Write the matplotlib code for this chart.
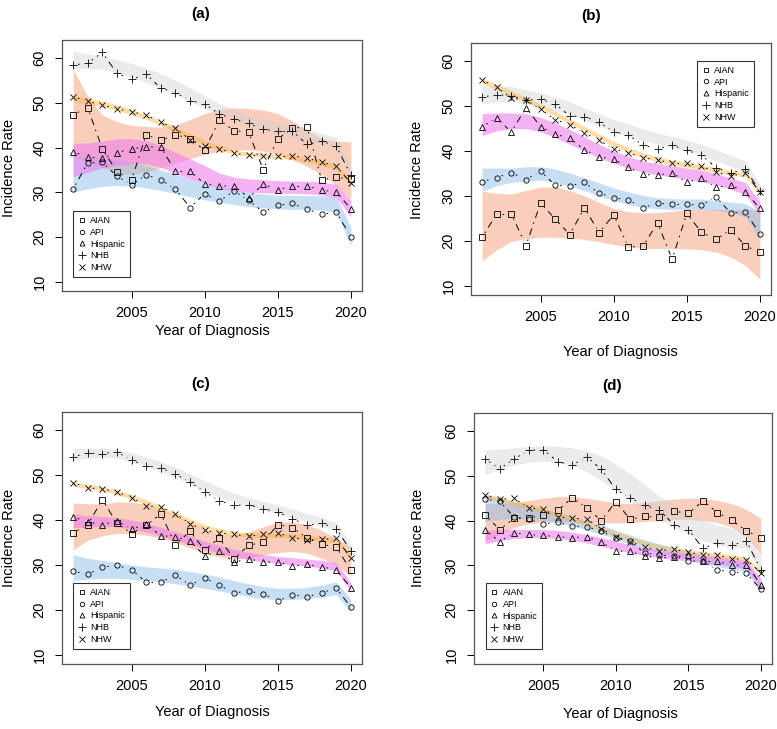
import numpy as np
import matplotlib
matplotlib.use("Agg")
import matplotlib.pyplot as plt
from matplotlib.collections import LineCollection
from matplotlib.lines import Line2D

plt.rcParams['font.family'] = ['Liberation Sans', 'DejaVu Sans']

years = list(range(2001, 2021))
groups = ["AIAN", "API", "Hispanic", "NHB", "NHW"]
x_ticks = [2005, 2010, 2015, 2020]
y_ticks = [10, 20, 30, 40, 50, 60]

# ---------------- panel (a) ----------------
a_AIAN = [47.4, 48.9, 39.7, 34.6, 32.8, 42.9, 41.6, 42.9, 42.0, 39.4, 46.2, 43.8, 43.5, 35.1, 41.9, 44.4, 44.6, 32.7, 33.4, 32.9]
a_API = [30.7, 36.6, 36.7, 33.6, 31.7, 33.9, 32.8, 30.7, 26.6, 29.7, 28.0, 30.3, 28.2, 25.6, 27.1, 27.5, 26.2, 25.1, 25.5, 20.1]
a_HISP = [39.1, 37.9, 37.6, 38.9, 39.7, 40.2, 40.1, 34.7, 34.7, 31.9, 31.4, 31.5, 28.8, 31.8, 30.6, 31.4, 31.4, 30.5, 30.1, 26.3]
a_NHB = [58.5, 58.9, 61.3, 56.6, 55.3, 56.4, 53.3, 52.3, 50.5, 49.8, 47.5, 46.4, 45.4, 44.1, 43.7, 43.7, 40.7, 41.5, 40.3, 33.9]
a_NHW = [51.4, 50.4, 49.5, 48.7, 48.0, 47.3, 45.7, 44.3, 41.8, 40.3, 39.7, 38.7, 38.3, 38.2, 38.2, 38.2, 37.6, 36.8, 35.8, 32.1]

a_AIAN_lo = [38.0, 37.0, 35.5, 34.3, 34.0, 34.5, 35.5, 36.5, 37.5, 38.5, 39.2, 39.5, 39.5, 39.2, 38.5, 37.3, 35.8, 34.0, 31.5, 28.5]
a_AIAN_hi = [57.5, 51.5, 47.3, 45.8, 45.0, 44.7, 44.6, 45.0, 46.3, 47.6, 48.6, 48.9, 48.8, 48.4, 47.6, 46.0, 44.0, 42.0, 41.5, 41.3]
a_API_lo = [30.0, 30.8, 31.3, 31.5, 31.4, 31.0, 30.4, 29.7, 29.0, 28.3, 27.8, 27.3, 26.8, 26.5, 26.3, 26.2, 26.2, 26.0, 25.5, 18.0]
a_API_hi = [38.3, 37.8, 37.5, 37.2, 36.7, 36.0, 35.0, 34.0, 33.0, 32.0, 31.2, 30.5, 30.0, 29.6, 29.4, 29.3, 29.3, 29.2, 29.0, 22.2]
a_HISP_lo = [33.5, 34.5, 35.5, 36.0, 36.4, 36.4, 35.6, 34.2, 33.0, 32.0, 30.9, 30.3, 30.0, 29.9, 29.8, 29.8, 29.7, 29.4, 28.8, 24.5]
a_HISP_hi = [41.0, 41.0, 41.5, 42.0, 42.0, 41.5, 40.5, 39.0, 37.5, 36.0, 34.3, 33.4, 33.0, 32.8, 32.6, 32.5, 32.5, 32.3, 31.8, 28.3]
a_NHB_lo = [57.6, 57.7, 57.5, 56.8, 55.8, 54.6, 53.3, 51.9, 50.4, 48.9, 47.4, 46.1, 44.9, 43.8, 42.9, 42.0, 41.3, 40.8, 40.0, 32.8]
a_NHB_hi = [61.5, 61.0, 60.4, 59.7, 58.8, 57.8, 56.6, 55.1, 53.4, 51.6, 49.9, 48.5, 47.3, 46.4, 45.6, 45.0, 44.3, 43.2, 42.3, 35.3]
a_NHW_lo = [50.2, 49.8, 49.1, 48.3, 47.4, 46.3, 45.0, 43.5, 42.0, 40.6, 39.4, 38.6, 38.1, 37.8, 37.6, 37.3, 36.8, 36.0, 35.0, 31.7]
a_NHW_hi = [51.6, 51.1, 50.4, 49.6, 48.6, 47.4, 46.1, 44.6, 43.1, 41.6, 40.4, 39.5, 39.0, 38.7, 38.5, 38.3, 37.8, 37.1, 36.2, 33.1]

# ---------------- panel (b) ----------------
b_AIAN = [20.8, 26.0, 26.0, 18.9, 28.5, 24.8, 21.4, 27.4, 21.8, 25.8, 18.6, 18.8, 24.0, 15.9, 26.1, 21.9, 20.3, 22.5, 18.9, 17.4]
b_API = [33.2, 34.1, 35.2, 33.6, 35.5, 32.4, 32.3, 33.0, 30.6, 29.6, 29.1, 27.4, 28.4, 28.1, 28.1, 27.9, 29.8, 26.2, 26.4, 21.6]
b_HISP = [45.4, 47.4, 44.2, 49.7, 45.4, 43.8, 42.8, 40.3, 38.7, 38.2, 36.4, 34.8, 34.6, 35.2, 33.0, 34.0, 31.9, 32.4, 30.9, 27.2]
b_NHB = [52.0, 52.6, 52.3, 51.4, 51.5, 50.5, 47.8, 47.7, 46.4, 44.3, 43.6, 41.3, 40.5, 41.3, 40.2, 39.1, 36.3, 35.1, 36.1, 31.0]
b_NHW = [55.8, 54.2, 51.8, 51.4, 49.3, 47.0, 45.9, 44.0, 42.4, 40.5, 39.6, 38.5, 38.0, 37.3, 37.3, 36.6, 35.3, 34.4, 35.2, 30.8]

b_AIAN_lo = [15.5, 18.0, 19.8, 20.5, 20.8, 20.8, 20.6, 20.3, 19.8, 19.2, 18.6, 18.3, 18.3, 18.3, 18.2, 18.0, 17.5, 16.4, 14.5, 11.4]
b_AIAN_hi = [31.0, 30.6, 30.4, 31.2, 32.0, 32.0, 31.2, 30.0, 28.6, 27.2, 26.5, 26.2, 26.3, 26.6, 27.0, 27.1, 27.0, 27.0, 27.0, 26.8]
b_API_lo = [31.0, 32.3, 33.0, 33.3, 33.5, 33.0, 32.2, 31.2, 30.0, 29.0, 28.1, 27.5, 27.1, 27.0, 27.0, 27.0, 26.8, 26.3, 25.3, 20.5]
b_API_hi = [36.2, 36.2, 36.2, 36.5, 36.5, 36.0, 35.1, 34.0, 32.9, 31.8, 30.9, 30.1, 29.6, 29.4, 29.3, 29.3, 29.0, 28.6, 28.3, 26.5]
b_HISP_lo = [43.5, 44.5, 45.0, 45.0, 44.3, 43.0, 41.5, 40.0, 38.5, 37.3, 36.2, 35.3, 34.7, 34.2, 33.7, 33.2, 32.5, 31.5, 30.3, 25.8]
b_HISP_hi = [48.3, 48.5, 48.5, 48.3, 47.5, 46.3, 44.8, 43.2, 41.5, 40.0, 38.8, 37.8, 37.2, 36.7, 36.2, 35.7, 35.0, 34.0, 33.0, 28.8]
b_NHB_lo = [50.5, 51.0, 51.0, 50.5, 50.0, 49.0, 48.0, 46.9, 45.5, 44.3, 43.3, 42.3, 41.5, 40.7, 40.0, 39.0, 37.8, 36.6, 35.5, 30.5]
b_NHB_hi = [54.5, 54.5, 54.4, 53.6, 53.0, 52.0, 51.0, 49.6, 48.3, 47.0, 46.0, 45.0, 44.0, 43.2, 42.5, 41.5, 40.3, 39.0, 37.8, 32.5]
b_NHW_lo = [55.1, 53.7, 52.3, 50.9, 49.4, 47.8, 46.1, 44.4, 42.7, 41.1, 39.7, 38.5, 37.6, 36.9, 36.4, 35.8, 35.2, 34.6, 34.3, 30.4]
b_NHW_hi = [56.3, 54.9, 53.5, 52.0, 50.5, 48.9, 47.2, 45.5, 43.8, 42.2, 40.8, 39.6, 38.7, 38.0, 37.5, 36.9, 36.3, 35.7, 35.4, 31.5]

# ---------------- panel (c) ----------------
c_AIAN = [37.1, 39.0, 44.5, 39.3, 37.0, 38.8, 41.4, 34.5, 37.5, 33.3, 36.0, 31.3, 34.4, 35.0, 39.0, 38.3, 36.0, 34.6, 34.0, 28.8]
c_API = [28.6, 27.9, 29.5, 29.9, 28.9, 26.2, 26.2, 27.7, 25.5, 27.1, 25.5, 23.8, 24.1, 23.6, 21.9, 23.4, 22.9, 23.8, 24.8, 20.6]
c_HISP = [40.7, 39.6, 39.0, 39.8, 37.9, 39.2, 36.5, 36.3, 35.3, 32.0, 33.1, 30.6, 31.4, 30.6, 30.7, 29.8, 30.1, 29.6, 28.9, 24.9]
c_NHB = [54.1, 54.9, 54.8, 55.2, 53.3, 52.1, 51.6, 50.3, 48.4, 46.3, 44.3, 43.3, 43.4, 42.5, 41.8, 40.3, 38.8, 39.3, 38.1, 33.1]
c_NHW = [48.3, 47.2, 46.9, 46.3, 44.9, 43.2, 42.9, 41.4, 39.2, 37.7, 37.1, 36.8, 36.4, 36.8, 37.1, 36.1, 35.5, 35.7, 35.9, 31.6]

c_AIAN_lo = [33.3, 35.5, 36.5, 37.0, 37.0, 36.6, 36.0, 35.0, 33.8, 32.6, 31.8, 31.3, 31.5, 32.2, 32.8, 33.0, 32.6, 31.5, 30.0, 27.5]
c_AIAN_hi = [43.8, 43.6, 43.6, 44.0, 44.0, 43.5, 42.5, 41.0, 39.5, 38.0, 37.0, 36.7, 37.3, 38.5, 39.5, 39.6, 39.0, 37.7, 36.0, 34.0]
c_API_lo = [26.5, 26.8, 27.0, 27.0, 26.8, 26.5, 26.2, 25.8, 25.3, 24.8, 24.2, 23.5, 23.0, 22.5, 22.3, 22.3, 22.5, 22.8, 23.4, 19.5]
c_API_hi = [32.3, 31.5, 31.0, 30.5, 30.0, 29.6, 29.3, 29.0, 28.5, 28.0, 27.3, 26.5, 25.8, 25.2, 24.8, 24.8, 25.0, 25.5, 26.2, 22.3]
c_HISP_lo = [38.3, 38.5, 38.6, 38.5, 38.0, 37.3, 36.4, 35.5, 34.5, 33.5, 32.6, 31.8, 31.2, 30.7, 30.3, 30.0, 29.7, 29.3, 28.7, 24.0]
c_HISP_hi = [41.3, 41.0, 40.8, 40.5, 40.0, 39.3, 38.4, 37.4, 36.4, 35.3, 34.4, 33.5, 32.8, 32.3, 31.9, 31.6, 31.3, 31.0, 30.5, 26.0]
c_NHB_lo = [53.3, 53.8, 54.0, 53.8, 53.0, 52.0, 50.8, 49.5, 48.0, 46.5, 45.0, 44.0, 43.0, 42.2, 41.3, 40.5, 39.6, 38.6, 37.7, 32.5]
c_NHB_hi = [56.0, 56.0, 56.0, 55.7, 55.0, 54.0, 53.0, 51.8, 50.3, 48.8, 47.3, 46.0, 45.0, 44.2, 43.3, 42.5, 41.5, 40.5, 39.5, 34.5]
c_NHW_lo = [47.5, 47.0, 46.5, 45.7, 44.7, 43.5, 42.1, 40.7, 39.3, 38.0, 37.1, 36.5, 36.2, 36.1, 36.1, 35.9, 35.6, 35.3, 34.9, 31.3]
c_NHW_hi = [48.5, 48.0, 47.5, 46.7, 45.7, 44.5, 43.1, 41.7, 40.3, 39.0, 38.1, 37.5, 37.2, 37.1, 37.1, 36.9, 36.6, 36.3, 35.9, 32.3]

# ---------------- panel (d) ----------------
d_AIAN = [41.3, 38.0, 40.5, 40.6, 41.2, 42.3, 45.1, 42.9, 40.0, 44.2, 40.3, 41.0, 40.7, 42.1, 41.6, 44.4, 41.8, 40.1, 37.7, 36.2]
d_API = [44.8, 44.3, 40.8, 40.3, 39.3, 39.6, 38.8, 38.6, 37.6, 36.1, 35.4, 32.7, 32.3, 32.1, 31.0, 30.9, 28.9, 28.6, 28.2, 24.6]
d_HISP = [37.9, 35.3, 37.2, 36.9, 36.7, 36.4, 36.2, 36.4, 35.2, 33.2, 33.1, 32.1, 31.6, 31.9, 32.3, 30.9, 30.9, 30.0, 30.1, 25.7]
d_NHB = [53.8, 51.6, 53.8, 55.7, 55.9, 53.2, 52.4, 54.3, 51.5, 47.0, 45.1, 43.4, 42.4, 39.1, 38.0, 33.8, 35.0, 34.6, 35.4, 29.0]
d_NHW = [45.7, 44.8, 45.0, 42.9, 42.5, 40.8, 40.5, 40.4, 38.2, 36.4, 35.3, 34.0, 33.3, 33.6, 32.9, 32.4, 32.3, 31.5, 31.3, 28.3]

d_AIAN_lo = [35.5, 37.0, 38.5, 39.3, 39.7, 39.7, 39.7, 39.5, 39.5, 39.5, 39.5, 39.8, 40.0, 40.3, 40.3, 40.0, 39.6, 38.5, 36.5, 32.5]
d_AIAN_hi = [43.8, 43.8, 44.0, 44.5, 45.0, 45.4, 45.4, 45.0, 44.5, 44.0, 43.8, 44.0, 44.5, 44.8, 45.0, 45.0, 44.5, 43.8, 42.5, 40.5]
d_API_lo = [39.8, 40.3, 40.5, 40.3, 40.0, 39.5, 38.8, 38.0, 37.0, 35.9, 34.8, 33.7, 32.8, 32.0, 31.2, 30.4, 29.7, 29.2, 28.5, 24.0]
d_API_hi = [45.8, 45.0, 44.2, 43.3, 42.6, 41.8, 41.0, 40.0, 39.0, 37.9, 36.8, 35.7, 34.8, 34.0, 33.2, 32.4, 31.7, 31.2, 30.8, 26.0]
d_HISP_lo = [34.8, 35.5, 36.0, 36.2, 36.2, 36.0, 35.6, 35.0, 34.3, 33.5, 32.8, 32.2, 31.7, 31.3, 31.0, 30.6, 30.2, 29.8, 29.2, 24.8]
d_HISP_hi = [37.8, 38.0, 38.0, 38.0, 38.0, 37.8, 37.4, 36.9, 36.2, 35.4, 34.6, 34.0, 33.5, 33.0, 32.7, 32.3, 32.0, 31.6, 31.1, 27.0]
d_NHB_lo = [50.3, 51.5, 52.5, 53.0, 53.3, 53.0, 52.3, 51.0, 49.0, 46.8, 44.5, 42.3, 40.3, 38.5, 37.0, 35.5, 34.5, 34.0, 33.8, 28.3]
d_NHB_hi = [55.8, 56.0, 56.3, 56.6, 56.8, 56.6, 56.3, 55.7, 54.5, 52.7, 50.5, 48.0, 45.5, 43.3, 41.5, 40.0, 39.0, 38.3, 38.0, 32.3]
d_NHW_lo = [45.0, 44.3, 43.5, 42.7, 41.8, 40.8, 39.8, 38.8, 37.7, 36.5, 35.4, 34.4, 33.6, 33.0, 32.5, 32.1, 31.7, 31.3, 30.9, 27.8]
d_NHW_hi = [46.0, 45.3, 44.5, 43.7, 42.8, 41.8, 40.8, 39.8, 38.7, 37.5, 36.4, 35.4, 34.6, 34.0, 33.5, 33.1, 32.7, 32.3, 31.9, 28.8]

# ---------------- styling ----------------
markers = {"AIAN": "s", "API": "o", "Hispanic": "^", "NHB": "+", "NHW": "x"}
msizes = {"AIAN": 3.8, "API": 3.8, "Hispanic": 4.2, "NHB": 6.0, "NHW": 4.5}
band_colors = {"AIAN": ("#F59A74", 0.48), "API": ("#8BBCEB", 0.48),
               "Hispanic": ("#EE7FEE", 0.6), "NHB": ("#D0D0D0", 0.42),
               "NHW": ("#FFB030", 0.42)}

W, H = 777, 729
panels = [
    dict(tag="(a)", box=(62, 40, 362, 291),
         pts=[a_AIAN, a_API, a_HISP, a_NHB, a_NHW],
         lo=[a_AIAN_lo, a_API_lo, a_HISP_lo, a_NHB_lo, a_NHW_lo],
         hi=[a_AIAN_hi, a_API_hi, a_HISP_hi, a_NHB_hi, a_NHW_hi],
         title=(201, 14), xlab=(212, 331), ylab=(9, 168),
         leg=("lower left", (0.037, 0.056))),
    dict(tag="(b)", box=(471, 43, 771, 295),
         pts=[b_AIAN, b_API, b_HISP, b_NHB, b_NHW],
         lo=[b_AIAN_lo, b_API_lo, b_HISP_lo, b_NHB_lo, b_NHW_lo],
         hi=[b_AIAN_hi, b_API_hi, b_HISP_hi, b_NHB_hi, b_NHW_hi],
         title=(591, 16), xlab=(620, 352), ylab=(417, 170),
         leg=("upper right", (0.943, 0.929))),
    dict(tag="(c)", box=(62, 412, 362, 664),
         pts=[c_AIAN, c_API, c_HISP, c_NHB, c_NHW],
         lo=[c_AIAN_lo, c_API_lo, c_HISP_lo, c_NHB_lo, c_NHW_lo],
         hi=[c_AIAN_hi, c_API_hi, c_HISP_hi, c_NHB_hi, c_NHW_hi],
         title=(201, 384), xlab=(212, 712), ylab=(9, 538),
         leg=("lower left", (0.037, 0.06))),
    dict(tag="(d)", box=(474, 413, 772, 664),
         pts=[d_AIAN, d_API, d_HISP, d_NHB, d_NHW],
         lo=[d_AIAN_lo, d_API_lo, d_HISP_lo, d_NHB_lo, d_NHW_lo],
         hi=[d_AIAN_hi, d_API_hi, d_HISP_hi, d_NHB_hi, d_NHW_hi],
         title=(612, 386), xlab=(620, 714), ylab=(418, 538),
         leg=("lower left", (0.040, 0.06))),
]

fig = plt.figure(figsize=(W / 100, H / 100), dpi=100)
GAP = 5.0  # pixel gap around each point (type "b")


def draw_series(ax, xs, ys, marker, ms):
    pts = ax.transData.transform(np.column_stack([xs, ys]))
    inv = ax.transData.inverted()
    segs = []
    for p, q in zip(pts[:-1], pts[1:]):
        d = q - p
        L = np.hypot(d[0], d[1])
        if L <= 2 * GAP + 1:
            continue
        u = d / L
        segs.append(inv.transform(np.array([p + u * GAP, q - u * GAP])))
    lc = LineCollection(segs, colors="black", linewidths=0.7,
                        linestyles=[(0, (1.6, 5, 7, 5))], zorder=3)
    ax.add_collection(lc)
    ax.plot(xs, ys, linestyle="none", marker=marker, ms=ms, mfc="none",
            mec="black", mew=0.6, zorder=4)


for P in panels:
    l, t, r, b = P["box"]
    ax = fig.add_axes([l / W, 1 - b / H, (r - l) / W, (b - t) / H])
    ax.set_xlim(2000.24, 2020.76)
    ax.set_ylim(7.92, 64.08)
    for g, lo, hi in zip(groups, P["lo"], P["hi"]):
        c, a = band_colors[g]
        ax.fill_between(years, lo, hi, color=c, alpha=a, linewidth=0, zorder=1)
    for g, ys in zip(groups, P["pts"]):
        draw_series(ax, years, ys, markers[g], msizes[g])
    ax.set_xticks(x_ticks)
    ax.set_yticks(y_ticks)
    ax.tick_params(axis="x", direction="out", length=5, width=0.7, pad=6,
                   labelsize=10.5, colors="black")
    ax.tick_params(axis="y", direction="out", length=5, width=0.7, pad=6,
                   labelsize=10.5, labelrotation=90, colors="black")
    for lab in ax.get_yticklabels():
        lab.set_verticalalignment("center")
    for s in ax.spines.values():
        s.set_color("#555555")
        s.set_linewidth(0.9)
    handles = [Line2D([], [], linestyle="none", marker=markers[g],
                      ms=msizes[g] * 0.85, mfc="none", mec="black", mew=0.6)
               for g in groups]
    loc, anchor = P["leg"]
    leg = ax.legend(handles, groups, loc=loc, bbox_to_anchor=anchor,
                    borderaxespad=0, fontsize=6.5, frameon=True, fancybox=False,
                    handlelength=0.8, handletextpad=0.5, labelspacing=0.3,
                    borderpad=0.55)
    leg.get_frame().set_edgecolor("black")
    leg.get_frame().set_linewidth(0.8)
    leg.set_zorder(5)
    tx, ty = P["title"]
    fig.text(tx / W, 1 - ty / H, P["tag"], ha="center", va="center",
             fontsize=11, fontweight="bold")
    xx, xy = P["xlab"]
    fig.text(xx / W, 1 - xy / H, "Year of Diagnosis", ha="center",
             va="center", fontsize=10.5)
    yx, yy = P["ylab"]
    fig.text(yx / W, 1 - yy / H, "Incidence Rate", ha="center", va="center",
             rotation=90, fontsize=10.5)

fig.savefig("out.png", dpi=100)
